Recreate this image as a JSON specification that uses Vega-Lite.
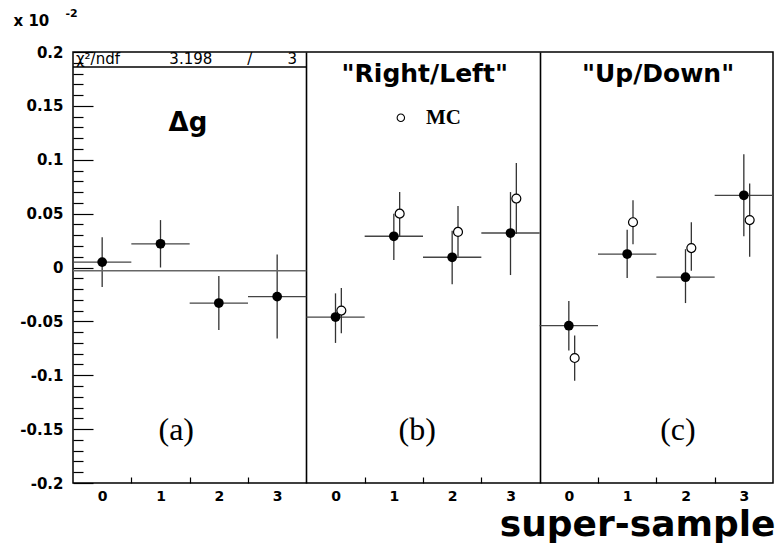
{
  "$schema": "https://vega.github.io/schema/vega-lite/v6.json",
  "width": 700,
  "height": 431,
  "autosize": {"type": "none"},
  "padding": {"left": 73, "top": 52, "right": 7, "bottom": 61},
  "background": "white",
  "config": {"view": {"stroke": "black", "strokeWidth": 1.5}},
  "datasets": {
    "pts": [
      {"panel": "a", "series": "data", "slot": 0.5, "xlo": 0, "xhi": 1, "value": 0.005, "lo": -0.018, "hi": 0.028},
      {"panel": "a", "series": "data", "slot": 1.5, "xlo": 1, "xhi": 2, "value": 0.022, "lo": 0.0, "hi": 0.044},
      {"panel": "a", "series": "data", "slot": 2.5, "xlo": 2, "xhi": 3, "value": -0.033, "lo": -0.058, "hi": -0.008},
      {"panel": "a", "series": "data", "slot": 3.5, "xlo": 3, "xhi": 4, "value": -0.027, "lo": -0.066, "hi": 0.012},
      {"panel": "b", "series": "data", "slot": 4.5, "xlo": 4, "xhi": 5, "value": -0.046, "lo": -0.070, "hi": -0.024},
      {"panel": "b", "series": "data", "slot": 5.5, "xlo": 5, "xhi": 6, "value": 0.029, "lo": 0.007, "hi": 0.050},
      {"panel": "b", "series": "data", "slot": 6.5, "xlo": 6, "xhi": 7, "value": 0.0095, "lo": -0.0156, "hi": 0.034},
      {"panel": "b", "series": "data", "slot": 7.5, "xlo": 7, "xhi": 8, "value": 0.032, "lo": -0.007, "hi": 0.070},
      {"panel": "c", "series": "data", "slot": 8.5, "xlo": 8, "xhi": 9, "value": -0.054, "lo": -0.077, "hi": -0.031},
      {"panel": "c", "series": "data", "slot": 9.5, "xlo": 9, "xhi": 10, "value": 0.0125, "lo": -0.0097, "hi": 0.035},
      {"panel": "c", "series": "data", "slot": 10.5, "xlo": 10, "xhi": 11, "value": -0.009, "lo": -0.033, "hi": 0.017},
      {"panel": "c", "series": "data", "slot": 11.5, "xlo": 11, "xhi": 12, "value": 0.067, "lo": 0.029, "hi": 0.105},
      {"panel": "b", "series": "MC", "slot": 4.6, "value": -0.040, "lo": -0.061, "hi": -0.019},
      {"panel": "b", "series": "MC", "slot": 5.6, "value": 0.050, "lo": 0.029, "hi": 0.070},
      {"panel": "b", "series": "MC", "slot": 6.6, "value": 0.033, "lo": 0.010, "hi": 0.057},
      {"panel": "b", "series": "MC", "slot": 7.6, "value": 0.064, "lo": 0.031, "hi": 0.097},
      {"panel": "c", "series": "MC", "slot": 8.6, "value": -0.084, "lo": -0.105, "hi": -0.063},
      {"panel": "c", "series": "MC", "slot": 9.6, "value": 0.042, "lo": 0.0215, "hi": 0.0623},
      {"panel": "c", "series": "MC", "slot": 10.6, "value": 0.018, "lo": -0.003, "hi": 0.042},
      {"panel": "c", "series": "MC", "slot": 11.6, "value": 0.044, "lo": 0.010, "hi": 0.078}
    ],
    "fit": [{"x0": 0, "x1": 4, "c": -0.003}],
    "one": [{}]
  },
  "resolve": {"axis": {"x": "independent", "y": "independent"}},
  "layer": [
    {
      "data": {"name": "pts"},
      "transform": [{"filter": "datum.series == 'data'"}],
      "mark": {"type": "rule", "color": "#444", "strokeWidth": 1.3},
      "encoding": {
        "x": {
          "field": "xlo", "type": "quantitative",
          "scale": {"domain": [0, 12], "nice": false, "zero": false},
          "axis": {
            "orient": "bottom",
            "values": [0.5, 1.5, 2.5, 3.5, 4.5, 5.5, 6.5, 7.5, 8.5, 9.5, 10.5, 11.5],
            "labelExpr": "'' + (floor(datum.value) % 4)",
            "ticks": false, "domain": false, "grid": false,
            "labelFont": "DejaVu Sans", "labelFontWeight": "bold", "labelFontSize": 14,
            "labelColor": "black", "labelPadding": 6, "labelFlush": false, "labelOverlap": false,
            "title": "super-sample", "titleFont": "DejaVu Sans", "titleFontWeight": "bold",
            "titleFontSize": 36, "titleColor": "black", "titleAlign": "right",
            "titleBaseline": "alphabetic", "titleX": 702, "titleY": 52
          }
        },
        "x2": {"field": "xhi"},
        "y": {
          "field": "value", "type": "quantitative",
          "scale": {"domain": [-0.2, 0.2], "nice": false, "zero": false},
          "axis": {
            "orient": "left",
            "values": [-0.2, -0.15, -0.1, -0.05, 0, 0.05, 0.1, 0.15, 0.2],
            "labelExpr": "'' + datum.value",
            "tickSize": -20, "tickColor": "black", "tickWidth": 1.2,
            "labelPadding": 30, "domain": false, "grid": false, "labelFlush": false, "labelOverlap": false,
            "labelFont": "DejaVu Sans", "labelFontWeight": "bold", "labelFontSize": 15, "labelColor": "black",
            "title": "x 10", "titleAngle": 0, "titleAlign": "left", "titleBaseline": "alphabetic",
            "titleX": -60, "titleY": -27, "titleFont": "DejaVu Sans", "titleFontWeight": "bold",
            "titleFontSize": 15, "titleColor": "black"
          }
        }
      }
    },
    {
      "data": {"name": "pts"},
      "mark": {"type": "rule", "color": "#333", "strokeWidth": 1.3},
      "encoding": {
        "x": {
          "field": "slot", "type": "quantitative",
          "axis": {
            "orient": "bottom", "values": [1, 2, 3, 5, 6, 7, 9, 10, 11],
            "tickSize": -6, "tickColor": "black", "tickWidth": 1.2,
            "labels": false, "domain": false, "grid": false, "title": null
          }
        },
        "y": {
          "field": "lo", "type": "quantitative",
          "axis": {
            "orient": "left",
            "values": [-0.19, -0.18, -0.17, -0.16, -0.14, -0.13, -0.12, -0.11, -0.09, -0.08, -0.07, -0.06, -0.04, -0.03, -0.02, -0.01, 0.01, 0.02, 0.03, 0.04, 0.06, 0.07, 0.08, 0.09, 0.11, 0.12, 0.13, 0.14, 0.16, 0.17, 0.18, 0.19],
            "tickSize": -10, "tickColor": "black", "tickWidth": 1.2,
            "labels": false, "domain": false, "grid": false,
            "title": "-2", "titleAngle": 0, "titleAlign": "left", "titleBaseline": "alphabetic",
            "titleX": -8, "titleY": -36, "titleFont": "DejaVu Sans", "titleFontWeight": "bold",
            "titleFontSize": 11, "titleColor": "black"
          }
        },
        "y2": {"field": "hi"}
      }
    },
    {
      "data": {"name": "fit"},
      "mark": {"type": "rule", "color": "#666", "strokeWidth": 1.5},
      "encoding": {
        "x": {
          "field": "x0", "type": "quantitative",
          "axis": {
            "orient": "bottom", "values": [4, 8], "grid": true, "gridColor": "black",
            "gridWidth": 1.6, "gridOpacity": 1, "ticks": false, "labels": false,
            "domain": false, "title": null
          }
        },
        "x2": {"field": "x1"},
        "y": {"field": "c", "type": "quantitative", "axis": null}
      }
    },
    {
      "data": {"name": "pts"},
      "transform": [{"filter": "datum.series == 'data'"}],
      "mark": {"type": "point", "filled": true, "color": "black", "size": 95, "opacity": 1},
      "encoding": {
        "x": {"field": "slot", "type": "quantitative", "axis": null},
        "y": {"field": "value", "type": "quantitative", "axis": null}
      }
    },
    {
      "data": {"name": "pts"},
      "transform": [{"filter": "datum.series == 'MC'"}],
      "mark": {"type": "point", "filled": true, "fill": "white", "stroke": "black", "strokeWidth": 1.2, "size": 80, "opacity": 1},
      "encoding": {
        "x": {"field": "slot", "type": "quantitative", "axis": null},
        "y": {"field": "value", "type": "quantitative", "axis": null}
      }
    },
    {
      "data": {"name": "one"},
      "mark": {"type": "rule", "color": "black", "strokeWidth": 1.5},
      "encoding": {
        "x": {"datum": 0, "type": "quantitative", "axis": null},
        "x2": {"datum": 4},
        "y": {"datum": 0.186, "type": "quantitative", "axis": null}
      }
    },
    {
      "data": {"name": "one"},
      "mark": {"type": "text", "font": "DejaVu Sans", "fontSize": 15, "color": "black", "align": "left", "baseline": "middle"},
      "encoding": {
        "x": {"datum": 0.05, "type": "quantitative", "axis": null},
        "y": {"datum": 0.1935, "type": "quantitative", "axis": null},
        "text": {"value": "χ²/ndf"}
      }
    },
    {
      "data": {"name": "one"},
      "mark": {"type": "text", "font": "DejaVu Sans", "fontSize": 15, "color": "black", "align": "center", "baseline": "middle"},
      "encoding": {
        "x": {"datum": 2.02, "type": "quantitative", "axis": null},
        "y": {"datum": 0.1935, "type": "quantitative", "axis": null},
        "text": {"value": "3.198"}
      }
    },
    {
      "data": {"name": "one"},
      "mark": {"type": "text", "font": "DejaVu Sans", "fontSize": 15, "color": "black", "align": "center", "baseline": "middle"},
      "encoding": {
        "x": {"datum": 3.03, "type": "quantitative", "axis": null},
        "y": {"datum": 0.1935, "type": "quantitative", "axis": null},
        "text": {"value": "/"}
      }
    },
    {
      "data": {"name": "one"},
      "mark": {"type": "text", "font": "DejaVu Sans", "fontSize": 15, "color": "black", "align": "center", "baseline": "middle"},
      "encoding": {
        "x": {"datum": 3.76, "type": "quantitative", "axis": null},
        "y": {"datum": 0.1935, "type": "quantitative", "axis": null},
        "text": {"value": "3"}
      }
    },
    {
      "data": {"name": "one"},
      "mark": {"type": "text", "font": "DejaVu Sans", "fontWeight": "bold", "fontSize": 26, "color": "black", "align": "center", "baseline": "middle"},
      "encoding": {
        "x": {"datum": 1.97, "type": "quantitative", "axis": null},
        "y": {"datum": 0.134, "type": "quantitative", "axis": null},
        "text": {"value": "Δg"}
      }
    },
    {
      "data": {"name": "one"},
      "mark": {"type": "text", "font": "DejaVu Sans", "fontWeight": "bold", "fontSize": 25, "color": "black", "align": "center", "baseline": "middle"},
      "encoding": {
        "x": {"datum": 6.03, "type": "quantitative", "axis": null},
        "y": {"datum": 0.18, "type": "quantitative", "axis": null},
        "text": {"value": "\"Right/Left\""}
      }
    },
    {
      "data": {"name": "one"},
      "mark": {"type": "text", "font": "DejaVu Sans", "fontWeight": "bold", "fontSize": 25, "color": "black", "align": "center", "baseline": "middle"},
      "encoding": {
        "x": {"datum": 10.03, "type": "quantitative", "axis": null},
        "y": {"datum": 0.18, "type": "quantitative", "axis": null},
        "text": {"value": "\"Up/Down\""}
      }
    },
    {
      "data": {"name": "one"},
      "mark": {"type": "point", "filled": true, "fill": "white", "stroke": "black", "strokeWidth": 1.1, "size": 55, "opacity": 1},
      "encoding": {
        "x": {"datum": 5.62, "type": "quantitative", "axis": null},
        "y": {"datum": 0.139, "type": "quantitative", "axis": null}
      }
    },
    {
      "data": {"name": "one"},
      "mark": {"type": "text", "font": "Liberation Serif", "fontWeight": "bold", "fontSize": 21, "color": "black", "align": "left", "baseline": "middle"},
      "encoding": {
        "x": {"datum": 6.05, "type": "quantitative", "axis": null},
        "y": {"datum": 0.139, "type": "quantitative", "axis": null},
        "text": {"value": "MC"}
      }
    },
    {
      "data": {"name": "one"},
      "mark": {"type": "text", "font": "Liberation Serif", "fontSize": 32, "color": "black", "align": "center", "baseline": "middle"},
      "encoding": {
        "x": {"datum": 1.77, "type": "quantitative", "axis": null},
        "y": {"datum": -0.151, "type": "quantitative", "axis": null},
        "text": {"value": "(a)"}
      }
    },
    {
      "data": {"name": "one"},
      "mark": {"type": "text", "font": "Liberation Serif", "fontSize": 32, "color": "black", "align": "center", "baseline": "middle"},
      "encoding": {
        "x": {"datum": 5.9, "type": "quantitative", "axis": null},
        "y": {"datum": -0.151, "type": "quantitative", "axis": null},
        "text": {"value": "(b)"}
      }
    },
    {
      "data": {"name": "one"},
      "mark": {"type": "text", "font": "Liberation Serif", "fontSize": 32, "color": "black", "align": "center", "baseline": "middle"},
      "encoding": {
        "x": {"datum": 10.37, "type": "quantitative", "axis": null},
        "y": {"datum": -0.151, "type": "quantitative", "axis": null},
        "text": {"value": "(c)"}
      }
    }
  ]
}
